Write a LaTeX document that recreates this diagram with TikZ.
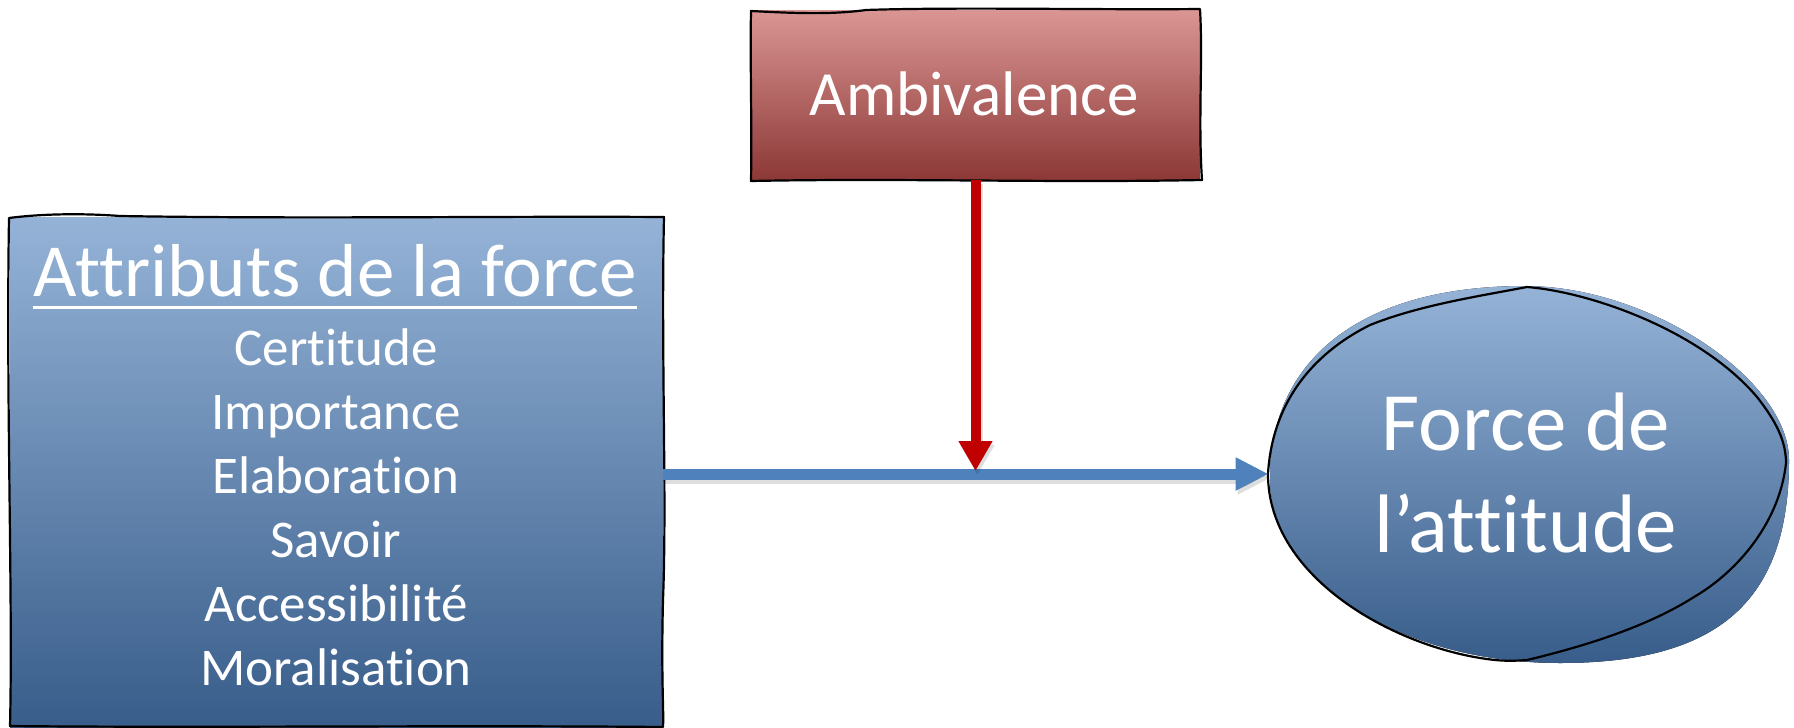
\documentclass[tikz,border=0pt]{standalone}
\usepackage{fontspec}
\setmainfont{Carlito}[Ligatures=NoCommon]
\usetikzlibrary{shapes.geometric,arrows.meta,calc}

\definecolor{bluetop}{RGB}{149,179,215}
\definecolor{bluemid}{RGB}{79,129,189}
\definecolor{bluebot}{RGB}{56,93,138}
\definecolor{redtop}{RGB}{218,150,148}
\definecolor{redmid}{RGB}{192,80,77}
\definecolor{redbot}{RGB}{140,56,54}
\definecolor{arrowred}{RGB}{192,0,0}
\definecolor{arrowblue}{RGB}{79,129,189}

\begin{document}
\begin{tikzpicture}[x=0.5pt,y=-0.5pt,
  bluefill/.style={top color=bluetop, middle color=bluemid, bottom color=bluebot},
  redfill/.style={top color=redtop, middle color=redmid, bottom color=redbot},
  boxshape/.style={rectangle, inner sep=0pt, draw=none},
  sketch/.style={draw=black, line width=1.1pt, line join=round, line cap=round},
  txt/.style={text=white, inner sep=0pt, anchor=base},
  itemfont/.style={font=\fontsize{26.5pt}{32pt}\selectfont},
  redarrow/.style={draw=arrowred, line width=5pt, -{Triangle[length=15pt,width=16pt]}},
  bluearrow/.style={draw=arrowblue, line width=5.5pt, -{Triangle[length=16.5pt,width=15.5pt]}},
  arrowshadow/.style={opacity=0.13, draw=black, transform canvas={shift={(1pt,-2pt)}}}
]
\useasboundingbox (0,0) rectangle (1794,728);

% --- left box: strength attributes ---
\node[boxshape, bluefill, minimum width=326.5pt, minimum height=255pt] (attr) at (336.5,472) {};
\draw[sketch] (9,218) .. controls (40,214) and (80,213) .. (120,216)
  .. controls (300,219) and (500,216) .. (664,217)
  .. controls (661,350) and (667,500) .. (663,600)
  .. controls (661,680) and (664,710) .. (663,727)
  .. controls (450,725) and (200,728) .. (10,726)
  .. controls (13,600) and (6,400) .. cycle;
\node[txt, font=\fontsize{37.5pt}{45pt}\selectfont] (title) at (335,296) {Attributs de la force};
\draw[white, line width=1.75pt] ([yshift=-5.75pt]title.base west) -- ([yshift=-5.75pt]title.base east);
\foreach \t [count=\i] in {Certitude, Importance, Elaboration, Savoir, Accessibilité, Moralisation}
  \node[txt, itemfont] (item\i) at (336,{301+64*\i}) {\t};

% --- top box: ambivalence ---
\node[boxshape, redfill, minimum width=224.5pt, minimum height=85pt] (amb) at (975.5,95) {};
\draw[sketch] (751,11) .. controls (790,13) and (830,15) .. (866,10)
  .. controls (950,7) and (1100,10) .. (1200,9)
  .. controls (1203,60) and (1198,120) .. (1202,180)
  .. controls (1050,183) and (900,178) .. (751,181)
  .. controls (752,120) and (750,60) .. cycle;
\node[txt, font=\fontsize{31.5pt}{38pt}\selectfont] (ambtxt) at (974,115) {Ambivalence};

% --- right ellipse: attitude strength ---
\node[ellipse, inner sep=0pt, minimum width=259pt, minimum height=188pt] (force) at (1528,474) {};
\fill[bluefill] (1270,478) .. controls (1270,360) and (1360,286) .. (1525,286)
  .. controls (1650,286) and (1789,380) .. (1789,460)
  .. controls (1789,600) and (1720,663) .. (1560,663)
  .. controls (1400,663) and (1270,580) .. cycle;
\draw[sketch] (1268,474) .. controls (1272,405) and (1310,355) .. (1370,325)
  .. controls (1420,305) and (1480,296) .. (1527,287)
  .. controls (1590,292) and (1700,330) .. (1757,397)
  .. controls (1775,420) and (1786,440) .. (1786,463)
  .. controls (1780,520) and (1740,570) .. (1694,597)
  .. controls (1650,625) and (1590,645) .. (1527,660)
  .. controls (1515,661) and (1505,661) .. (1495,660)
  .. controls (1400,650) and (1268,580) .. cycle;
\node[txt, font=\fontsize{41.5pt}{51pt}\selectfont] (force1) at (1526,450) {Force de};
\node[txt, font=\fontsize{41.5pt}{51pt}\selectfont] (force2) at (1526,552) {l’attitude};

% --- connectors ---
\coordinate (meet) at ($(amb.south |- force.west)+(0,-3)$);
\draw[bluearrow, arrowshadow] (attr.east |- force.west) -- (force.west);
\draw[bluearrow] (attr.east |- force.west) -- (force.west);
\draw[redarrow, arrowshadow] (amb.south) -- (meet);
\draw[redarrow] (amb.south) -- (meet);
\end{tikzpicture}
\end{document}
